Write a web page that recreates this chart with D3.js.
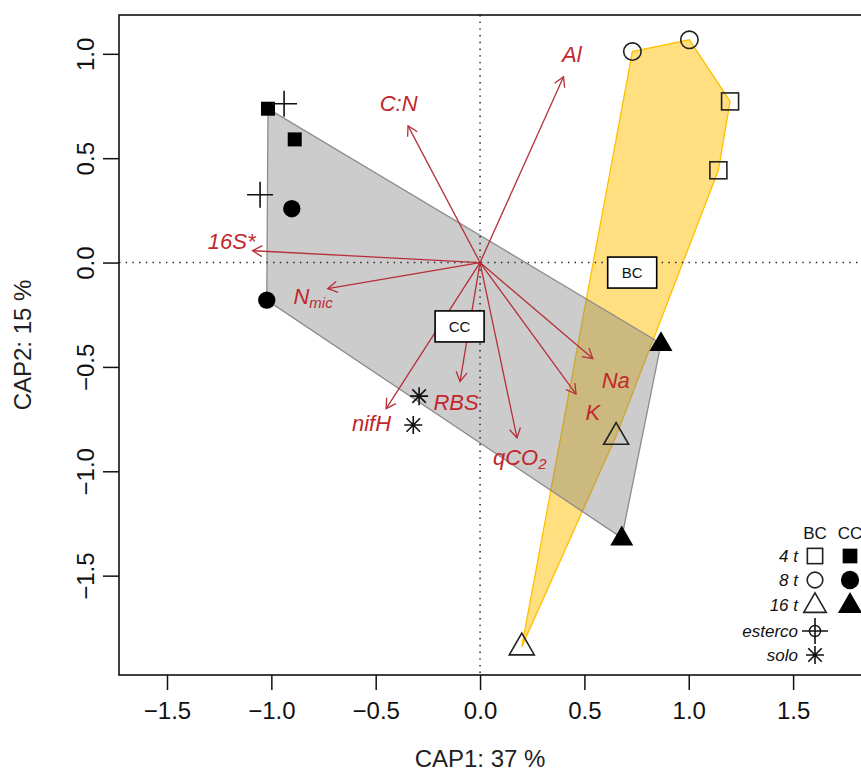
<!DOCTYPE html>
<html>
<head>
<meta charset="utf-8">
<script src="https://cdn.jsdelivr.net/npm/d3@7/dist/d3.min.js"></script>
<style>
html,body{margin:0;padding:0;background:#fff;}
svg{display:block;font-family:"Liberation Sans",Arial,sans-serif;}
</style>
</head>
<body>
<svg id="chart" width="861" height="771"></svg>
<script>
// ---------- data ----------
const xTicks = [-1.5, -1.0, -0.5, 0.0, 0.5, 1.0, 1.5];
const yTicks = [-1.5, -1.0, -0.5, 0.0, 0.5, 1.0];
const xTitle = "CAP1: 37 %";
const yTitle = "CAP2: 15 %";

// samples: group, treatment, CAP1, CAP2
const ccTreat = ["4 t", "4 t", "8 t", "8 t", "16 t", "16 t"];
const ccX = [-1.016, -0.888, -0.902, -1.022, 0.867, 0.679];
const ccY = [0.737, 0.590, 0.258, -0.180, -0.388, -1.319];

const bcTreat = ["4 t", "4 t", "8 t", "8 t", "16 t", "16 t"];
const bcX = [1.198, 1.142, 0.730, 1.003, 0.652, 0.200];
const bcY = [0.772, 0.442, 1.011, 1.067, -0.831, -1.840];

const estercoX = [-0.939, -1.054];
const estercoY = [0.761, 0.325];
const soloX = [-0.292, -0.320];
const soloY = [-0.640, -0.778];

// group centroids
const centroidNames = ["BC", "CC"];
const centroidX = [0.729, -0.098];
const centroidY = [-0.048, -0.306];

// environmental vectors
const vecNames = ["Al", "C:N", "16S*", "Nmic", "nifH", "RBS", "qCO2", "Na", "K"];
const vecX = [0.400, -0.345, -1.090, -0.730, -0.450, -0.096, 0.177, 0.540, 0.460];
const vecY = [0.890, 0.655, 0.057, -0.125, -0.700, -0.570, -0.840, -0.460, -0.630];
const labX = [0.440, -0.390, -1.190, -0.800, -0.520, -0.115, 0.190, 0.650, 0.540];
const labY = [0.995, 0.760, 0.100, -0.160, -0.770, -0.670, -0.930, -0.565, -0.720];

// legend
const legendCols = ["BC", "CC"];
const legendRows = ["4 t", "8 t", "16 t", "esterco", "solo"];

// ---------- layout ----------
const svg = d3.select("#chart");
const L = 119, T = 15, B = 675;
const x = d3.scaleLinear().domain([-1.73, 1.95]).range([L, L + 3.68 * 208.7]);
const y = d3.scaleLinear().domain([-1.976, 1.186]).range([B, T]);
const R = x(1.95);

const ARROW = "#b5303a", LABEL = "#c1272d";

// hulls
const bcPts = bcX.map((v, i) => [x(v), y(bcY[i])]);
const ccPts = ccX.map((v, i) => [x(v), y(ccY[i])]);
const bcHull = d3.polygonHull(bcPts);
const ccHull = d3.polygonHull(ccPts);
const line = d3.line().curve(d3.curveLinearClosed);

svg.append("clipPath").attr("id", "plotclip")
  .append("rect").attr("x", L).attr("y", T).attr("width", R - L).attr("height", B - T);

const plot = svg.append("g").attr("clip-path", "url(#plotclip)");

plot.append("path").attr("d", line(bcHull))
  .attr("fill", "rgba(255,192,0,0.5)").attr("stroke", "#ffc000").attr("stroke-width", 1.3);
plot.append("path").attr("d", line(ccHull))
  .attr("fill", "rgba(128,128,128,0.4)").attr("stroke", "#8c8c8c").attr("stroke-width", 1.3);

// zero lines
plot.append("line").attr("x1", x(0)).attr("x2", x(0)).attr("y1", T).attr("y2", B)
  .attr("stroke", "#222").attr("stroke-width", 1.5).attr("stroke-dasharray", "1.4,5.3");
plot.append("line").attr("x1", L).attr("x2", R).attr("y1", y(0)).attr("y2", y(0))
  .attr("stroke", "#222").attr("stroke-width", 1.5).attr("stroke-dasharray", "1.4,5.3");

// vectors
const vg = plot.append("g");
vecNames.forEach((n, i) => {
  const x0 = x(0), y0 = y(0), x1 = x(vecX[i]), y1 = y(vecY[i]);
  vg.append("line").attr("x1", x0).attr("y1", y0).attr("x2", x1).attr("y2", y1)
    .attr("stroke", ARROW).attr("stroke-width", 1.3);
  const ang = Math.atan2(y1 - y0, x1 - x0);
  const hl = 11, ha = Math.PI / 6;
  const p = `M${x1 - hl * Math.cos(ang - ha)},${y1 - hl * Math.sin(ang - ha)} L${x1},${y1} L${x1 - hl * Math.cos(ang + ha)},${y1 - hl * Math.sin(ang + ha)}`;
  vg.append("path").attr("d", p).attr("fill", "none").attr("stroke", ARROW).attr("stroke-width", 1.3);

  const t = vg.append("text").attr("x", x(labX[i])).attr("y", y(labY[i]))
    .attr("text-anchor", "middle").attr("dominant-baseline", "central")
    .attr("font-style", "italic").attr("font-size", 22).attr("fill", LABEL);
  if (n === "Nmic") {
    t.append("tspan").text("N");
    t.append("tspan").attr("font-size", 15).attr("dy", 6).text("mic");
  } else if (n === "qCO2") {
    t.append("tspan").text("qCO");
    t.append("tspan").attr("font-size", 15).attr("dy", 6).text("2");
  } else {
    t.text(n);
  }
});

// centroid boxes
centroidNames.forEach((n, i) => {
  const cx = x(centroidX[i]), cy = y(centroidY[i]);
  plot.append("rect").attr("x", cx - 24.5).attr("y", cy - 15.5).attr("width", 49).attr("height", 31)
    .attr("fill", "#fff").attr("stroke", "#000").attr("stroke-width", 1.6);
  plot.append("text").attr("x", cx).attr("y", cy).attr("text-anchor", "middle")
    .attr("dominant-baseline", "central").attr("font-size", 15).attr("fill", "#111").text(n);
});

// symbols
function sym(g, type, cx, cy, filled, s) {
  s = s || 1;
  const stroke = "#222", sw = 1.6;
  if (type === "4 t") {
    const a = (filled ? 14 : 17) * s;
    g.append("rect").attr("x", cx - a / 2).attr("y", cy - a / 2).attr("width", a).attr("height", a)
      .attr("fill", filled ? "#000" : "none").attr("stroke", filled ? "none" : stroke).attr("stroke-width", sw);
  } else if (type === "8 t") {
    g.append("circle").attr("cx", cx).attr("cy", cy).attr("r", 8.7 * s)
      .attr("fill", filled ? "#000" : "none").attr("stroke", filled ? "none" : stroke).attr("stroke-width", sw);
  } else if (type === "16 t") {
    const w = (filled ? 23 : 25) * s, h = w * 0.866;
    const p = `M${cx},${cy - h * 0.62} L${cx + w / 2},${cy + h * 0.38} L${cx - w / 2},${cy + h * 0.38} Z`;
    g.append("path").attr("d", p)
      .attr("fill", filled ? "#000" : "none").attr("stroke", filled ? "none" : stroke).attr("stroke-width", sw);
  } else if (type === "esterco") {
    const a = 13 * s;
    g.append("path").attr("d", `M${cx - a},${cy} H${cx + a} M${cx},${cy - a} V${cy + a}`)
      .attr("stroke", "#111").attr("stroke-width", 1.6).attr("fill", "none");
  } else if (type === "solo") {
    const a = 9 * s, d = a * 0.75;
    g.append("path").attr("d", `M${cx - a},${cy} H${cx + a} M${cx},${cy - a} V${cy + a} M${cx - d},${cy - d} L${cx + d},${cy + d} M${cx - d},${cy + d} L${cx + d},${cy - d}`)
      .attr("stroke", "#111").attr("stroke-width", 1.6).attr("fill", "none");
  }
}

const pg = svg.append("g");
bcTreat.forEach((t, i) => sym(pg, t, x(bcX[i]), y(bcY[i]), false));
ccTreat.forEach((t, i) => sym(pg, t, x(ccX[i]), y(ccY[i]), true));
estercoX.forEach((v, i) => sym(pg, "esterco", x(v), y(estercoY[i]), false));
soloX.forEach((v, i) => sym(pg, "solo", x(v), y(soloY[i]), false));

// frame
svg.append("rect").attr("x", L).attr("y", T).attr("width", R - L).attr("height", B - T)
  .attr("fill", "none").attr("stroke", "#111").attr("stroke-width", 1.6);

// axes
const xAxis = d3.axisBottom(x).tickValues(xTicks).tickSize(15).tickPadding(12)
  .tickFormat(d3.format(".1f"));
const gx = svg.append("g").attr("transform", `translate(0,${B})`).call(xAxis);
gx.select(".domain").remove();
gx.selectAll(".tick line").attr("stroke", "#111").attr("stroke-width", 1.5);
gx.selectAll(".tick text").attr("font-size", 24).attr("fill", "#111")
  .attr("font-family", "Liberation Sans, Arial, sans-serif");

const yAxis = d3.axisLeft(y).tickValues(yTicks).tickSize(16).tickPadding(0)
  .tickFormat(d3.format(".1f"));
const gy = svg.append("g").attr("transform", `translate(${L},0)`).call(yAxis);
gy.select(".domain").remove();
gy.selectAll(".tick line").attr("stroke", "#111").attr("stroke-width", 1.5);
gy.selectAll(".tick text").attr("font-size", 24).attr("fill", "#111")
  .attr("font-family", "Liberation Sans, Arial, sans-serif")
  .attr("x", null).attr("dy", null)
  .attr("text-anchor", "middle").attr("dominant-baseline", "central")
  .attr("transform", "translate(-34,0) rotate(-90)");

svg.append("text").attr("x", 480).attr("y", 767).attr("text-anchor", "middle")
  .attr("font-size", 24).attr("fill", "#222").text(xTitle);
svg.append("text").attr("transform", `translate(31,${(T + B) / 2}) rotate(-90)`)
  .attr("text-anchor", "middle").attr("font-size", 24).attr("fill", "#222").text(yTitle);

// legend
const lg = svg.append("g");
const colX = [815, 850];
const rowY = [556, 580, 605, 631, 655];
legendCols.forEach((c, j) => {
  lg.append("text").attr("x", colX[j]).attr("y", 533).attr("text-anchor", "middle")
    .attr("dominant-baseline", "central").attr("font-size", 17).attr("fill", "#111").text(c);
});
legendRows.forEach((r, i) => {
  lg.append("text").attr("x", 798).attr("y", rowY[i]).attr("text-anchor", "end")
    .attr("dominant-baseline", "central").attr("font-size", 17).attr("font-style", "italic")
    .attr("fill", "#111").text(r);
  if (i < 3) {
    sym(lg, r, colX[0], rowY[i], false, 0.9);
    sym(lg, r, colX[1], rowY[i], true, 1.05);
  } else if (r === "esterco") {
    sym(lg, r, colX[0], rowY[i], false, 1.0);
    lg.append("circle").attr("cx", colX[0]).attr("cy", rowY[i]).attr("r", 5.5)
      .attr("fill", "none").attr("stroke", "#111").attr("stroke-width", 1.4);
  } else {
    sym(lg, r, colX[0], rowY[i], false, 1.0);
  }
});
</script>
</body>
</html>
